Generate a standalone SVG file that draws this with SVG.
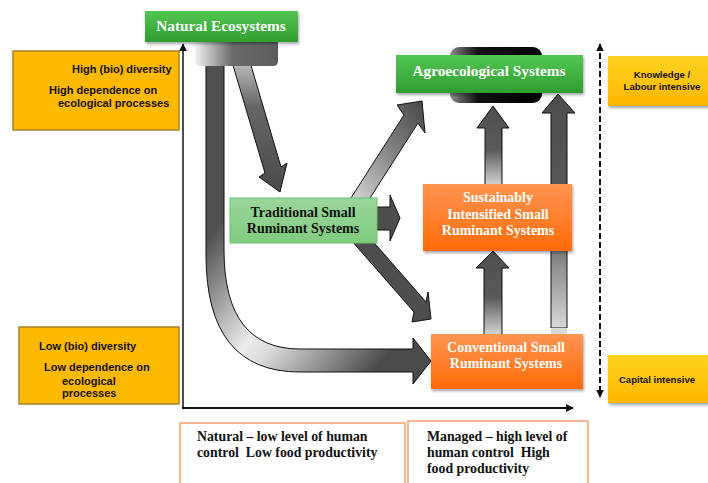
<svg xmlns="http://www.w3.org/2000/svg" width="708" height="483" viewBox="0 0 708 483">
<defs>
<style>
.serif{font-family:"Liberation Serif","Times New Roman",serif;font-weight:bold;}
.sans{font-family:"Liberation Sans",Arial,sans-serif;font-weight:bold;}
.wt{fill:#fff;font-size:15.3px;text-anchor:middle;}
.ot{fill:#fff;font-size:14px;text-anchor:middle;}
.bt{fill:#111;font-size:14px;text-anchor:middle;}
.yt{fill:#111;font-size:11px;}
.rt{fill:#111;font-size:9.6px;text-anchor:middle;}
.ft{fill:#111;font-size:13.8px;}
.arr{stroke:#111;stroke-width:1;stroke-linejoin:miter;}
.dark{fill:#4e4e4e;}
</style>
<linearGradient id="gGreen" x1="0" y1="0" x2="0" y2="1">
<stop offset="0" stop-color="#52c652"/><stop offset="1" stop-color="#2f9e2f"/>
</linearGradient>
<linearGradient id="gLight" x1="0" y1="0" x2="0" y2="1">
<stop offset="0" stop-color="#9ad79a"/><stop offset="1" stop-color="#80cc80"/>
</linearGradient>
<linearGradient id="gOrange" x1="0" y1="0" x2="0" y2="1">
<stop offset="0" stop-color="#ff9552"/><stop offset="1" stop-color="#ff6a08"/>
</linearGradient>
<linearGradient id="gYellow" x1="0" y1="0" x2="0" y2="1">
<stop offset="0" stop-color="#ffd321"/><stop offset="1" stop-color="#ffb600"/>
</linearGradient>
<linearGradient id="gCurve" gradientUnits="userSpaceOnUse" x1="215" y1="230" x2="380" y2="365">
<stop offset="0" stop-color="#505050"/><stop offset="0.45" stop-color="#ececec"/><stop offset="0.55" stop-color="#dcdcdc"/><stop offset="1" stop-color="#4a4a4a"/>
</linearGradient>
<linearGradient id="gDiag" x1="0" y1="0" x2="0" y2="1">
<stop offset="0" stop-color="#bdbdbd"/><stop offset="0.35" stop-color="#656565"/><stop offset="1" stop-color="#4a4a4a"/>
</linearGradient>
<linearGradient id="gUpRight" x1="0" y1="1" x2="1" y2="0">
<stop offset="0" stop-color="#e0e0e0"/><stop offset="0.5" stop-color="#8a8a8a"/><stop offset="1" stop-color="#454545"/>
</linearGradient>
<linearGradient id="gUp" x1="0" y1="0" x2="0" y2="1">
<stop offset="0" stop-color="#4e4e4e"/><stop offset="0.55" stop-color="#5a5a5a"/><stop offset="1" stop-color="#d8d8d8"/>
</linearGradient>
<linearGradient id="gBlock" x1="0" y1="0" x2="1" y2="0">
<stop offset="0" stop-color="#f2f2f2"/><stop offset="0.45" stop-color="#6a6a6a"/><stop offset="1" stop-color="#5c5c5c"/>
</linearGradient>
<linearGradient id="gBlob" x1="0" y1="0" x2="1" y2="0">
<stop offset="0" stop-color="#8a8a8a"/><stop offset="0.3" stop-color="#111"/><stop offset="1" stop-color="#000"/>
</linearGradient>
<filter id="sh" x="-10%" y="-20%" width="125%" height="150%">
<feDropShadow dx="1" dy="2" stdDeviation="1.5" flood-color="#000" flood-opacity="0.35"/>
</filter>
<marker id="ah" viewBox="0 0 10 10" refX="9" refY="5" markerWidth="8" markerHeight="8" markerUnits="userSpaceOnUse" orient="auto-start-reverse">
<path d="M0,0 L10,5 L0,10 Z" fill="#111"/>
</marker>
</defs>
<rect width="708" height="483" fill="#fff"/>

<g id="connectors">
<line x1="183" y1="409" x2="183" y2="44" stroke="#111" stroke-width="1.5" marker-end="url(#ah)"/>
<line x1="182" y1="408" x2="573" y2="408" stroke="#111" stroke-width="2" marker-end="url(#ah)"/>
<line x1="600" y1="44" x2="600" y2="397" stroke="#111" stroke-width="2" stroke-dasharray="6,3" marker-start="url(#ah)" marker-end="url(#ah)"/>
<path class="arr" fill="url(#gCurve)" d="M206,60 L224,60 L224,250 Q224,349 300,349 L413,349 L413,338 L431,361 L413,384 L413,372 L300,372 Q206,372 206,255 Z"/>
<path class="arr" fill="url(#gDiag)" d="M232,62 L250,62 L281,167 L287,163 L280,192 L259,177 L265,173 Z"/>
<path class="arr" fill="url(#gUpRight)" d="M349,201 L404,115 L397,105 L422,101 L425,133 L418,123 L363,209 Z"/>
<path class="arr dark" d="M363,230 L426,302 L428,292 L431,319 L412,322 L414,312 L351,240 Z"/>
<path class="arr dark" d="M370,207 L390,207 L390,195 L400,218 L390,241 L390,230 L370,230 Z"/>
<path class="arr" fill="url(#gUp)" d="M485,186 L485,128 L477,128 L493,106 L509,128 L502,128 L502,186 Z"/>
<path class="arr" fill="url(#gUp)" d="M551,328 L551,113 L542,113 L558,94 L575,113 L567,113 L567,328 Z"/>
<rect x="551" y="328" width="16" height="6" fill="#d9d9d9"/>
<path class="arr" fill="url(#gUp)" d="M484,336 L484,268 L476,268 L493,251 L509,268 L502,268 L502,336 Z"/>
<path d="M195,38 L278,38 L278,61 Q278,66 273,66 L200,66 Q195,66 195,61 Z" fill="url(#gBlock)"/>
</g>

<g id="high-diversity">
<rect x="13" y="51" width="166" height="79" fill="#ffb900" stroke="#a8832e" stroke-width="1.5"/>
<text class="sans yt" x="72" y="73">High (bio) diversity</text>
<text class="sans yt" x="49" y="94">High dependence on</text>
<text class="sans yt" x="58" y="107">ecological processes</text>
</g>

<g id="low-diversity">
<rect x="19" y="327" width="160" height="77" fill="#ffb900" stroke="#a8832e" stroke-width="1.5"/>
<text class="sans yt" x="39" y="350">Low (bio) diversity</text>
<text class="sans yt" x="44" y="371">Low dependence on</text>
<text class="sans yt" x="62" y="385">ecological</text>
<text class="sans yt" x="62" y="397">processes</text>
</g>

<g id="natural-ecosystems">
<rect x="145" y="11" width="153" height="31" fill="url(#gGreen)" filter="url(#sh)"/>
<text class="serif wt" x="221" y="31">Natural Ecosystems</text>
</g>

<g id="agroecological-systems">
<rect x="450" y="47" width="92" height="56" rx="9" fill="url(#gBlob)"/>
<rect x="396" y="55" width="187" height="38" fill="url(#gGreen)" filter="url(#sh)"/>
<text class="serif wt" x="489" y="76">Agroecological Systems</text>
</g>

<g id="traditional">
<rect x="230" y="198" width="147" height="45" fill="url(#gLight)" stroke="#6dbf6d" stroke-width="1"/>
<text class="serif bt" x="303" y="217">Traditional Small</text>
<text class="serif bt" x="303" y="233">Ruminant Systems</text>
</g>

<g id="sustainably-intensified">
<rect x="423" y="184" width="149" height="67" fill="url(#gOrange)" filter="url(#sh)"/>
<text class="serif ot" x="498" y="202">Sustainably</text>
<text class="serif ot" x="498" y="219">Intensified Small</text>
<text class="serif ot" x="498" y="235">Ruminant Systems</text>
</g>

<g id="conventional">
<rect x="431" y="334" width="152" height="55" fill="url(#gOrange)" filter="url(#sh)"/>
<text class="serif ot" x="506" y="352">Conventional Small</text>
<text class="serif ot" x="506" y="368">Ruminant Systems</text>
</g>

<g id="knowledge">
<rect x="608" y="56" width="104" height="50" fill="url(#gYellow)" filter="url(#sh)"/>
<text class="sans rt" x="662" y="78">Knowledge /</text>
<text class="sans rt" x="662" y="90">Labour intensive</text>
</g>

<g id="capital">
<rect x="608" y="355" width="104" height="48" fill="url(#gYellow)" filter="url(#sh)"/>
<text class="sans rt" x="657" y="383">Capital intensive</text>
</g>

<g id="natural-label">
<rect x="180" y="423" width="225" height="70" fill="#fff" stroke="#f4a06e" stroke-width="1.5"/>
<text class="serif ft" x="197" y="441">Natural – low level of human</text>
<text class="serif ft" x="197" y="457" xml:space="preserve">control  Low food productivity</text>
</g>

<g id="managed-label">
<rect x="408" y="421" width="180" height="72" fill="#fff" stroke="#f4a06e" stroke-width="1.5"/>
<text class="serif ft" x="427" y="441">Managed – high level of</text>
<text class="serif ft" x="427" y="457" xml:space="preserve">human control  High</text>
<text class="serif ft" x="427" y="473">food productivity</text>
</g>
</svg>
